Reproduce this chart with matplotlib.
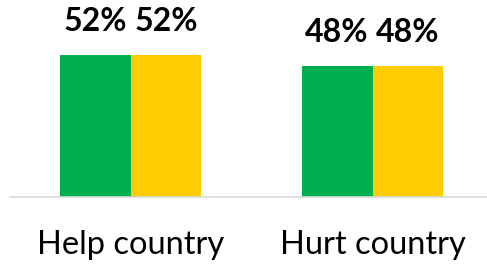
import matplotlib.pyplot as plt
import numpy as np

categories = ['Help country', 'Hurt country']
# values per category: green bar, yellow bar
green_vals = [52, 48]
yellow_vals = [52, 48]

plt.rcParams['font.family'] = ['Lato', 'DejaVu Sans']

fig = plt.figure(figsize=(4.87, 2.65), dpi=100)
ax = fig.add_axes([10 / 487, 68 / 265, 1 - 10 / 487, 197 / 265])

x = np.arange(len(categories))
w = 0.293
b1 = ax.bar(x - w / 2, green_vals, width=w, color='#00B050')
b2 = ax.bar(x + w / 2, yellow_vals, width=w, color='#FFCC00')

for bars in (b1, b2):
    for rect in bars:
        h = rect.get_height()
        ax.annotate(f'{h:.0f}%', (rect.get_x() + rect.get_width() / 2, h),
                    xytext=(0, 14), textcoords='offset points',
                    ha='center', va='bottom', fontsize=23, fontweight='bold')

ax.set_xlim(-0.498, 1.473)
ax.set_ylim(0, 72.2)
ax.set_xticks(x)
ax.set_xticklabels(categories, fontsize=23.5)
ax.tick_params(axis='x', length=0, pad=24)
ax.set_yticks([])
for s in ('top', 'right', 'left'):
    ax.spines[s].set_visible(False)
ax.spines['bottom'].set_color('#D9D9D9')
ax.spines['bottom'].set_linewidth(1.2)

fig.savefig('out.png', dpi=100)
